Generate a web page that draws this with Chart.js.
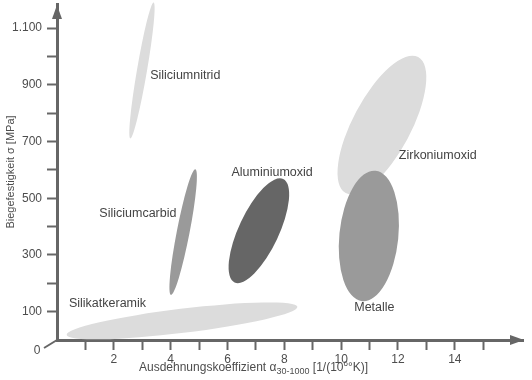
<!DOCTYPE html>
<html><head><meta charset="utf-8">
<script src="https://cdn.jsdelivr.net/npm/chart.js@4.4.1/dist/chart.umd.min.js"></script>
<style>html,body{margin:0;padding:0;background:#fff}#wrap{width:532px;height:380px;position:relative}</style>
</head><body><div id="wrap"><canvas id="c" width="532" height="380"></canvas></div>
<script>
// Material fields: end points of each field's long axis (alpha, sigma) and relative width
const materials = ['Siliciumnitrid', 'Silikatkeramik', 'Siliciumcarbid', 'Aluminiumoxid', 'Zirkoniumoxid', 'Metalle'];
const alphaStart = [3.40, 0.34, 4.87, 7.96, 12.71, 11.21];
const sigmaStart = [1190, 18, 602, 568, 998, 597];
const alphaEnd = [2.58, 8.46, 4.01, 6.25, 10.16, 10.74];
const sigmaEnd = [711, 117, 159, 203, 518, 137];
const widthRatio = [0.073, 0.104, 0.10, 0.35, 0.377, 0.45];

const xTickValues = [1, 2, 3, 4, 5, 6, 7, 8, 9, 10, 11, 12, 13, 14, 15];
const xTickLabels = ['', '2', '', '4', '', '6', '', '8', '', '10', '', '12', '', '14', ''];
const yTickValues = [100, 200, 300, 400, 500, 600, 700, 800, 900, 1000, 1100];
const yTickLabels = ['100', '', '300', '', '500', '', '700', '', '900', '', '1.100'];

// styling / label placement (data units)
const fieldColors = ['#dcdcdc', '#dcdcdc', '#9a9a9a', '#666666', '#dcdcdc', '#9a9a9a'];
const labelAlpha = [3.28, 0.42, 1.49, 6.14, 12.03, 10.46];
const labelSigma = [931, 130, 446, 589, 649, 115];

const FONT = '"Liberation Sans", Arial, Helvetica, sans-serif';
const AXIS = '#666666';
const TXT = '#4d4d4d';

const datasets = materials.map((m, i) => ({
  label: m,
  data: [{x: alphaStart[i], y: sigmaStart[i]}, {x: alphaEnd[i], y: sigmaEnd[i]}],
  showLine: false,
  pointRadius: 0,
  fieldColor: fieldColors[i],
  widthRatio: widthRatio[i]
}));

const fieldsPlugin = {
  id: 'fields',
  beforeDatasetsDraw(chart) {
    const ctx = chart.ctx, xs = chart.scales.x, ys = chart.scales.y;
    chart.data.datasets.forEach(ds => {
      const x1 = xs.getPixelForValue(ds.data[0].x), y1 = ys.getPixelForValue(ds.data[0].y);
      const x2 = xs.getPixelForValue(ds.data[1].x), y2 = ys.getPixelForValue(ds.data[1].y);
      const cx = (x1 + x2) / 2, cy = (y1 + y2) / 2;
      const a = Math.hypot(x2 - x1, y2 - y1) / 2, b = a * ds.widthRatio;
      ctx.save();
      ctx.beginPath();
      ctx.ellipse(cx, cy, a, b, Math.atan2(y2 - y1, x2 - x1), 0, Math.PI * 2);
      ctx.fillStyle = ds.fieldColor;
      ctx.fill();
      ctx.restore();
    });
  },
  afterDatasetsDraw(chart) {
    const ctx = chart.ctx, xs = chart.scales.x, ys = chart.scales.y;
    ctx.save();
    ctx.font = '12.5px ' + FONT;
    ctx.fillStyle = '#444';
    ctx.textAlign = 'left';
    ctx.textBaseline = 'middle';
    materials.forEach((m, i) => {
      ctx.fillText(m, xs.getPixelForValue(labelAlpha[i]), ys.getPixelForValue(labelSigma[i]));
    });
    ctx.restore();
  },
  afterDraw(chart) {
    const ctx = chart.ctx, ca = chart.chartArea;
    const ox = chart.scales.x.left, oy = chart.scales.y.bottom;
    ctx.save();
    ctx.fillStyle = AXIS;
    // y arrow
    ctx.beginPath();
    ctx.moveTo(ox, ca.top + 1);
    ctx.lineTo(ox - 5, ca.top + 15);
    ctx.lineTo(ox + 5, ca.top + 15);
    ctx.closePath(); ctx.fill();
    // x arrow
    ctx.beginPath();
    ctx.moveTo(ca.right + 1, oy);
    ctx.lineTo(ca.right - 13, oy - 5);
    ctx.lineTo(ca.right - 13, oy + 5);
    ctx.closePath(); ctx.fill();
    // origin marker
    ctx.strokeStyle = AXIS; ctx.lineWidth = 2;
    ctx.beginPath(); ctx.moveTo(ox, oy); ctx.lineTo(ox - 13, oy + 8); ctx.stroke();
    ctx.fillStyle = TXT;
    ctx.font = '12px ' + FONT;
    ctx.textAlign = 'center'; ctx.textBaseline = 'middle';
    ctx.fillText('0', 37, oy + 11);
    // x title with sub/superscript
    let x = 139; const base = 371;
    ctx.textAlign = 'left'; ctx.textBaseline = 'alphabetic';
    const parts = [
      ['Ausdehnungskoeffizient \u03b1', 12, 0],
      ['30-1000', 9, 3],
      [' [1/(10', 12, 0],
      ['6', 8, -5],
      ['\u00b0K)]', 12, 0]
    ];
    parts.forEach(p => {
      ctx.font = p[1] + 'px ' + FONT;
      ctx.fillText(p[0], x, base + p[2]);
      x += ctx.measureText(p[0]).width;
    });
    ctx.restore();
  }
};

new Chart(document.getElementById('c'), {
  type: 'line',
  data: {datasets},
  options: {
    responsive: false,
    animation: false,
    events: [],
    layout: {padding: {top: 4, right: 9, left: 0, bottom: 0}},
    plugins: {legend: {display: false}, tooltip: {enabled: false}},
    scales: {
      x: {
        type: 'linear', min: 0, max: 16.4,
        afterFit(s) { s.height = 40; s.paddingLeft = 0; s.paddingRight = 0; s.paddingTop = 0; s.paddingBottom = 0; },
        afterBuildTicks(s) { s.ticks = xTickValues.map(v => ({value: v})); },
        grid: {drawOnChartArea: false, drawTicks: true, tickLength: 10, tickWidth: 2, tickColor: AXIS},
        border: {display: true, color: AXIS, width: 3},
        ticks: {autoSkip: false, maxRotation: 0, padding: 2, color: TXT, font: {family: FONT, size: 12},
          callback: (v, i) => xTickLabels[i]}
      },
      y: {
        type: 'linear', min: 0, max: 1185,
        afterFit(s) { s.width = 57; s.paddingLeft = 0; s.paddingRight = 0; s.paddingTop = 0; s.paddingBottom = 0; },
        afterBuildTicks(s) { s.ticks = yTickValues.map(v => ({value: v})); },
        grid: {drawOnChartArea: false, drawTicks: true, tickLength: 10, tickWidth: 2, tickColor: AXIS},
        border: {display: true, color: AXIS, width: 3},
        ticks: {autoSkip: false, padding: 5, color: TXT, font: {family: FONT, size: 12},
          callback: (v, i) => yTickLabels[i]},
        title: {display: true, text: 'Biegefestigkeit \u03c3 [MPa]', color: TXT,
          font: {family: FONT, size: 11}, padding: {top: 4, bottom: 0}}
      }
    }
  },
  plugins: [fieldsPlugin]
});
</script>
</body></html>
